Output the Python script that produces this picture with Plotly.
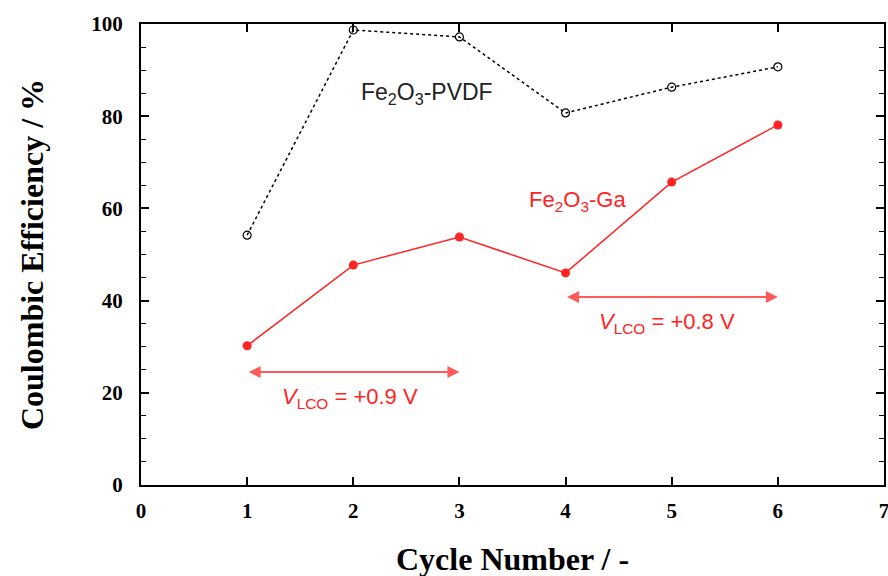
import plotly.graph_objects as go

cycles = [1, 2, 3, 4, 5, 6]
pvdf = [54.2, 98.7, 97.2, 80.7, 86.3, 90.7]
ga = [30.2, 47.7, 53.8, 46.0, 65.7, 78.1]

x_ticks = [0, 1, 2, 3, 4, 5, 6, 7]
y_ticks = [0, 20, 40, 60, 80, 100]

arrow1 = dict(x0=1, x1=3, y=24.5, label="<i>V</i><sub>LCO</sub> = +0.9 V", lx=1.97, ly=18.9)
arrow2 = dict(x0=4, x1=6, y=40.8, label="<i>V</i><sub>LCO</sub> = +0.8 V", lx=4.96, ly=35.1)

RED = "rgb(255,35,35)"
ARROW_RED = "rgb(255,90,90)"
SANS = "Liberation Sans, Arial"
SERIF = "Liberation Serif, Times New Roman"

fig = go.Figure()
fig.add_trace(go.Scatter(
    x=cycles, y=pvdf, mode="lines+markers",
    line=dict(color="black", width=1.5, dash="dot"),
    marker=dict(symbol="circle-open", size=8, color="black", line=dict(width=1.2)),
    showlegend=False))
fig.add_trace(go.Scatter(
    x=cycles, y=ga, mode="lines+markers",
    line=dict(color=RED, width=1.5),
    marker=dict(symbol="circle", size=9, color=RED),
    showlegend=False))

ann = []
for a in (arrow1, arrow2):
    ann.append(dict(x=a["x1"], y=a["y"], ax=a["x0"], ay=a["y"], xref="x", yref="y",
                    axref="x", ayref="y", showarrow=True, arrowhead=2, startarrowhead=2,
                    arrowside="end+start", arrowsize=1.2, arrowwidth=2, arrowcolor=ARROW_RED,
                    text=""))
    ann.append(dict(x=a["lx"], y=a["ly"], xref="x", yref="y", showarrow=False,
                    text=a["label"], font=dict(family=SANS, size=22, color=RED)))

ann.append(dict(x=2.69, y=84.9, xref="x", yref="y", showarrow=False,
                text="Fe<sub>2</sub>O<sub>3</sub>-PVDF",
                font=dict(family=SANS, size=23, color="#222222")))
ann.append(dict(x=4.11, y=61.6, xref="x", yref="y", showarrow=False,
                text="Fe<sub>2</sub>O<sub>3</sub>-Ga",
                font=dict(family=SANS, size=22, color=RED)))
# x-axis title (placed in paper space so it can sit near the very bottom, as in the reference)
plot_h = 576 - 24 - 91
ann.append(dict(x=0.5, xref="paper", y=(485 - 559) / plot_h, yref="paper", yanchor="middle",
                showarrow=False, text="Cycle Number / -",
                font=dict(family=SERIF, size=32, color="black", weight="bold")))

axis_common = dict(showgrid=False, zeroline=False, showline=True, linecolor="black", linewidth=2,
                   mirror="allticks", ticks="inside", tickcolor="black", tickwidth=1.5,
                   ticklabeloverflow="allow",
                   tickfont=dict(family=SERIF, size=21, color="black", weight="bold"))

fig.update_layout(
    width=888, height=576,
    margin=dict(l=141, r=2, t=24, b=91),
    paper_bgcolor="white", plot_bgcolor="white",
    annotations=ann,
    xaxis=dict(range=[0, 7], tickvals=x_ticks, ticklen=8, ticklabelstandoff=6,
               automargin=False, **axis_common),
    yaxis=dict(range=[0, 100], tickvals=y_ticks, ticklen=8, ticklabelstandoff=12,
               minor=dict(dtick=5, ticklen=5, ticks="inside", tickcolor="black", tickwidth=1.2),
               title=dict(text="Coulombic Efficiency / %", standoff=38,
                          font=dict(family=SERIF, size=32, color="black", weight="bold")),
               **axis_common),
)

fig.write_html("out.html")
